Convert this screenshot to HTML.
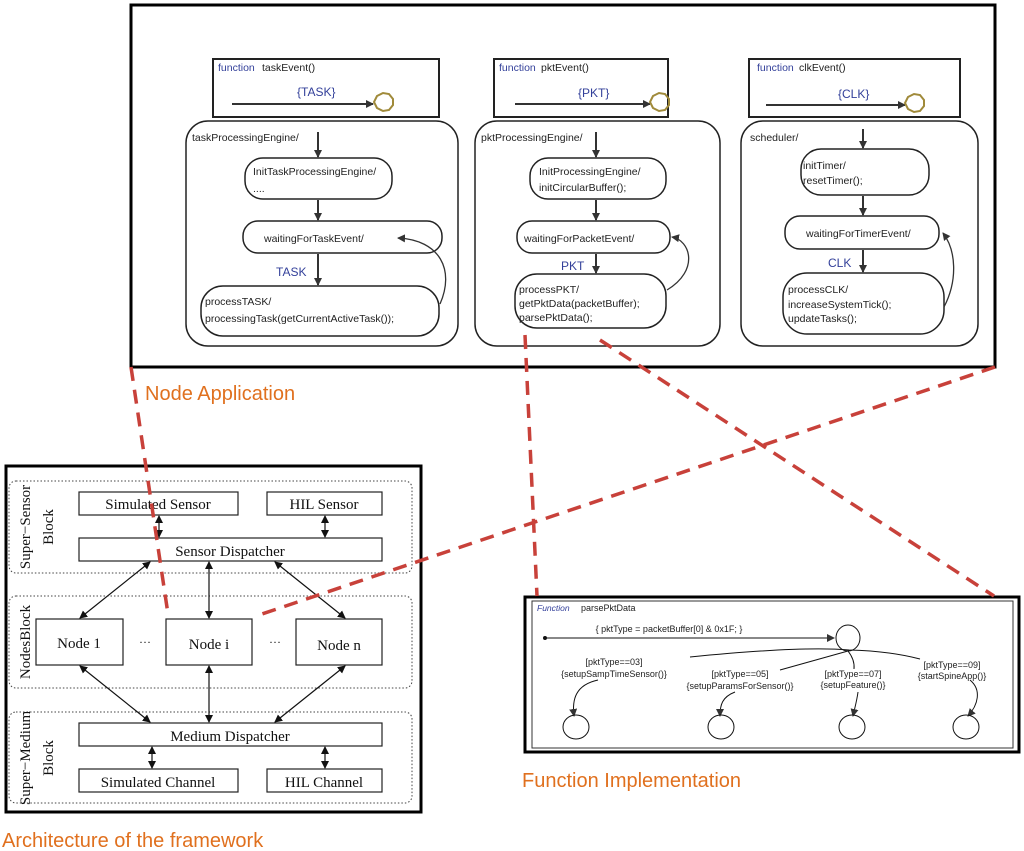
<!DOCTYPE html>
<html><head><meta charset="utf-8"><style>
body{margin:0;background:#fff}
svg{display:block}
.a{font-family:"Liberation Sans",sans-serif;font-size:10.5px;fill:#222}
.b{font-family:"Liberation Sans",sans-serif;fill:#33409a}
.s{font-family:"Liberation Serif",serif;font-size:15px;fill:#111}
.o{font-family:"Liberation Sans",sans-serif;font-size:20px;fill:#e0701e}
.f{font-family:"Liberation Sans",sans-serif;font-size:9px;fill:#222}
</style></head><body>
<svg width="1024" height="851" viewBox="0 0 1024 851" xmlns="http://www.w3.org/2000/svg">
<defs>
<marker id="ar" markerWidth="8" markerHeight="8" refX="7" refY="4" orient="auto" markerUnits="userSpaceOnUse"><path d="M0,0 L8,4 L0,8z" fill="#333"/></marker>
<marker id="ar2" markerWidth="8" markerHeight="8" refX="7" refY="4" orient="auto-start-reverse" markerUnits="userSpaceOnUse"><path d="M0,0 L8,4 L0,8z" fill="#111"/></marker>
</defs>
<!-- Node application -->
<rect x="131" y="5" width="864" height="362" fill="none" stroke="#000" stroke-width="3"/>
<g stroke="#222" stroke-width="1.5" fill="none">
<rect x="213" y="59" width="226" height="58" stroke-width="2"/>
<rect x="494" y="59" width="174" height="58" stroke-width="2"/>
<rect x="749" y="59" width="211" height="58" stroke-width="2"/>
<rect x="186" y="121" width="272" height="225" rx="22"/>
<rect x="475" y="121" width="245" height="225" rx="22"/>
<rect x="741" y="121" width="237" height="225" rx="22"/>
<rect x="245" y="158" width="147" height="41" rx="18"/>
<rect x="243" y="221" width="199" height="32" rx="15"/>
<rect x="201" y="286" width="238" height="50" rx="22"/>
<rect x="530" y="158" width="136" height="41" rx="18"/>
<rect x="517" y="221" width="153" height="32" rx="15"/>
<rect x="515" y="274" width="151" height="54" rx="22"/>
<rect x="801" y="149" width="128" height="46" rx="20"/>
<rect x="785" y="216" width="154" height="33" rx="15"/>
<rect x="783" y="273" width="161" height="61" rx="24"/>
</g>
<g stroke="#333" stroke-width="2" fill="none" marker-end="url(#ar)">
<line x1="232" y1="104" x2="373" y2="104"/>
<line x1="515" y1="104" x2="650" y2="104"/>
<line x1="766" y1="105" x2="905" y2="105"/>
<line x1="318" y1="132" x2="318" y2="157"/>
<line x1="318" y1="200" x2="318" y2="220"/>
<line x1="318" y1="254" x2="318" y2="285"/>
<line x1="596" y1="132" x2="596" y2="157"/>
<line x1="596" y1="200" x2="596" y2="220"/>
<line x1="596" y1="254" x2="596" y2="273"/>
<line x1="863" y1="129" x2="863" y2="148"/>
<line x1="863" y1="196" x2="863" y2="215"/>
<line x1="863" y1="250" x2="863" y2="272"/>
<path d="M440,304 C455,270 440,240 398,238" stroke-width="1.3"/>
<path d="M667,290 C700,270 690,240 672,237" stroke-width="1.3"/>
<path d="M944,307 C958,280 956,250 943,233" stroke-width="1.3"/>
</g>
<g fill="none" stroke="#a08a3a" stroke-width="2">
<polygon points="377,96 383,93 389,94 393,99 393,105 389,110 383,111 377,108 374,102"/>
<polygon points="653,96 659,93 665,94 669,99 669,105 665,110 659,111 653,108 650,102"/>
<polygon points="908,97 914,94 920,95 924,100 924,106 920,111 914,112 908,109 905,103"/>
</g>
<text x="218" y="71" class="b" font-size="10.5">function</text><text x="262" y="71" class="a">taskEvent()</text>
<text x="499" y="71" class="b" font-size="10.5">function</text><text x="541" y="71" class="a">pktEvent()</text>
<text x="757" y="71" class="b" font-size="10.5">function</text><text x="799" y="71" class="a">clkEvent()</text>
<text x="297" y="96" class="b" font-size="12">{TASK}</text>
<text x="578" y="97" class="b" font-size="12">{PKT}</text>
<text x="838" y="98" class="b" font-size="12">{CLK}</text>
<text x="192" y="141" class="a">taskProcessingEngine/</text>
<text x="481" y="141" class="a">pktProcessingEngine/</text>
<text x="750" y="141" class="a">scheduler/</text>
<text x="253" y="175" class="a">InitTaskProcessingEngine/</text>
<text x="253" y="192" class="a">....</text>
<text x="264" y="242" class="a">waitingForTaskEvent/</text>
<text x="276" y="276" class="b" font-size="12">TASK</text>
<text x="205" y="305" class="a">processTASK/</text>
<text x="205" y="322" class="a">processingTask(getCurrentActiveTask());</text>
<text x="539" y="175" class="a">InitProcessingEngine/</text>
<text x="539" y="191" class="a">initCircularBuffer();</text>
<text x="524" y="242" class="a">waitingForPacketEvent/</text>
<text x="561" y="270" class="b" font-size="12">PKT</text>
<text x="519" y="293" class="a">processPKT/</text>
<text x="519" y="307" class="a">getPktData(packetBuffer);</text>
<text x="519" y="321" class="a">parsePktData();</text>
<text x="803" y="169" class="a">initTimer/</text>
<text x="803" y="184" class="a">resetTimer();</text>
<text x="806" y="237" class="a">waitingForTimerEvent/</text>
<text x="828" y="267" class="b" font-size="12">CLK</text>
<text x="788" y="293" class="a">processCLK/</text>
<text x="788" y="308" class="a">increaseSystemTick();</text>
<text x="788" y="322" class="a">updateTasks();</text>
<text x="145" y="400" class="o">Node Application</text>

<!-- Architecture -->
<rect x="6" y="466" width="415" height="346" fill="none" stroke="#000" stroke-width="3"/>
<g fill="none" stroke="#444" stroke-width="1" stroke-dasharray="1.5,2">
<rect x="9" y="481" width="403" height="92" rx="7"/>
<rect x="9" y="596" width="403" height="92" rx="7"/>
<rect x="9" y="712" width="403" height="91" rx="7"/>
</g>
<g fill="#fff" stroke="#222" stroke-width="1.2">
<rect x="79" y="492" width="159" height="23"/>
<rect x="267" y="492" width="115" height="23"/>
<rect x="79" y="538" width="303" height="23"/>
<rect x="36" y="619" width="87" height="46"/>
<rect x="166" y="619" width="86" height="46"/>
<rect x="296" y="619" width="86" height="46"/>
<rect x="79" y="723" width="303" height="23"/>
<rect x="79" y="769" width="159" height="23"/>
<rect x="267" y="769" width="115" height="23"/>
</g>
<g stroke="#111" stroke-width="1.2" marker-start="url(#ar2)" marker-end="url(#ar2)">
<line x1="150" y1="562" x2="80" y2="618"/>
<line x1="209" y1="562" x2="209" y2="618"/>
<line x1="275" y1="562" x2="345" y2="618"/>
<line x1="80" y1="666" x2="150" y2="722"/>
<line x1="209" y1="666" x2="209" y2="722"/>
<line x1="345" y1="666" x2="275" y2="722"/>
<line x1="159" y1="516" x2="159" y2="537"/>
<line x1="325" y1="516" x2="325" y2="537"/>
<line x1="152" y1="747" x2="152" y2="768"/>
<line x1="325" y1="747" x2="325" y2="768"/>
</g>
<g class="s" text-anchor="middle">
<text x="158" y="509">Simulated Sensor</text>
<text x="324" y="509">HIL Sensor</text>
<text x="230" y="556">Sensor Dispatcher</text>
<text x="79" y="648">Node 1</text>
<text x="209" y="649">Node i</text>
<text x="339" y="650">Node n</text>
<text x="230" y="741">Medium Dispatcher</text>
<text x="158" y="787">Simulated Channel</text>
<text x="324" y="787">HIL Channel</text>
<text x="145" y="646" font-size="12">···</text>
<text x="275" y="646" font-size="12">···</text>
<text transform="translate(30,527) rotate(-90)">Super−Sensor</text>
<text transform="translate(53,527) rotate(-90)">Block</text>
<text transform="translate(30,642) rotate(-90)">NodesBlock</text>
<text transform="translate(30,758) rotate(-90)">Super−Medium</text>
<text transform="translate(53,758) rotate(-90)">Block</text>
</g>
<text x="2" y="847" class="o">Architecture of the framework</text>

<!-- Function implementation -->
<rect x="525" y="597" width="494" height="155" fill="none" stroke="#000" stroke-width="3"/>
<rect x="532" y="601" width="481" height="147" fill="none" stroke="#333" stroke-width="1"/>
<text x="537" y="611" font-family="Liberation Sans,sans-serif" font-size="8.5" font-style="italic" fill="#33409a">Function</text>
<text x="581" y="611" class="f">parsePktData</text>
<text x="669" y="632" class="f" text-anchor="middle">{ pktType = packetBuffer[0] &amp; 0x1F; }</text>
<g stroke="#111" stroke-width="1" fill="none">
<circle cx="545" cy="638" r="1.5" fill="#111"/>
<line x1="545" y1="638" x2="834" y2="638" marker-end="url(#ar)"/>
<ellipse cx="848" cy="638" rx="12" ry="13"/>
<path d="M690,657 Q800,646 849,650 Q890,651 920,659"/>
<path d="M780,670 L848,651"/>
<path d="M848,651 Q855,660 854,669"/>
<path d="M598,680 C575,685 572,700 574,716" marker-end="url(#ar)"/>
<path d="M735,692 C722,697 720,705 720,716" marker-end="url(#ar)"/>
<path d="M858,692 C857,700 855,707 853,716" marker-end="url(#ar)"/>
<path d="M970,680 C982,690 978,705 968,716" marker-end="url(#ar)"/>
<ellipse cx="576" cy="727" rx="13" ry="12"/>
<ellipse cx="721" cy="727" rx="13" ry="12"/>
<ellipse cx="852" cy="727" rx="13" ry="12"/>
<ellipse cx="966" cy="727" rx="13" ry="12"/>
</g>
<g class="f" text-anchor="middle">
<text x="614" y="665">[pktType==03]</text>
<text x="614" y="677">{setupSampTimeSensor()}</text>
<text x="740" y="677">[pktType==05]</text>
<text x="740" y="689">{setupParamsForSensor()}</text>
<text x="853" y="677">[pktType==07]</text>
<text x="853" y="688">{setupFeature()}</text>
<text x="952" y="668">[pktType==09]</text>
<text x="952" y="679">{startSpineApp()}</text>
</g>
<text x="522" y="787" class="o">Function Implementation</text>

<!-- red dashed connectors -->
<g stroke="#c8413a" stroke-width="3.5" stroke-dasharray="14,9" fill="none">
<line x1="131" y1="367" x2="168" y2="614"/>
<line x1="995" y1="367" x2="256" y2="616"/>
<line x1="525" y1="335" x2="537" y2="596"/>
<line x1="600" y1="340" x2="994" y2="596"/>
</g>
</svg>
</body></html>
